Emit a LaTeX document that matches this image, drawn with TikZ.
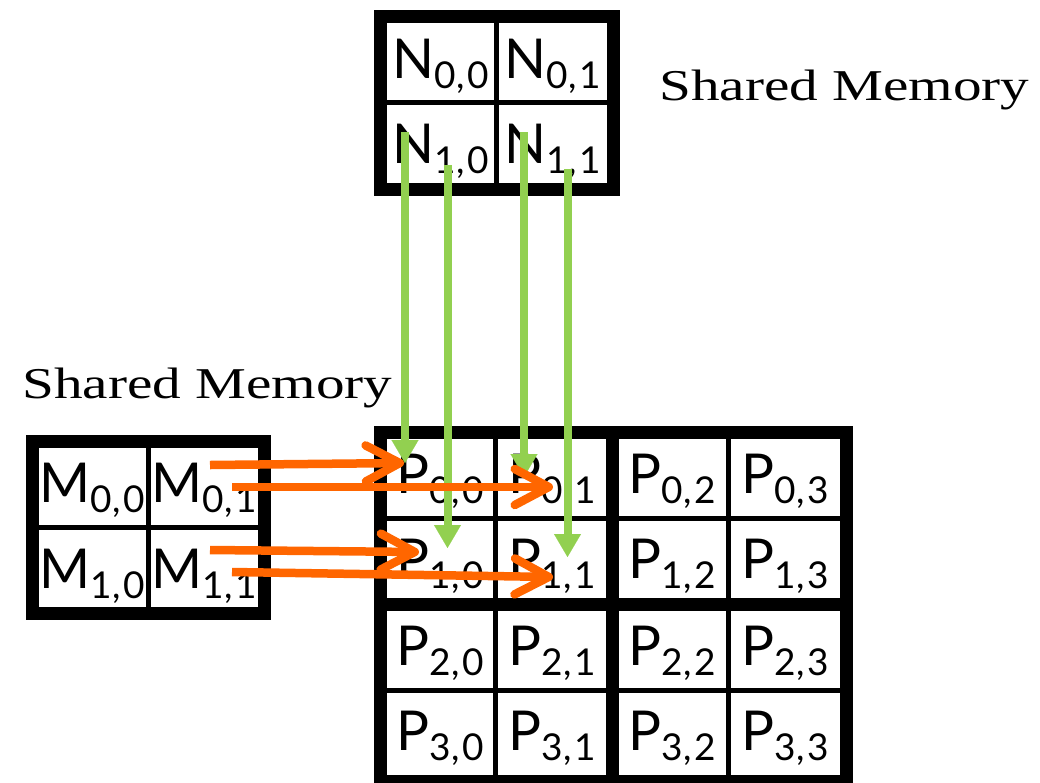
\documentclass[tikz,border=0pt]{standalone}
\usepackage{graphicx}
\usepackage{fontspec}
\usetikzlibrary{arrows.meta}
\newfontfamily\cellfont{Lato}
\newfontfamily\labfont{Liberation Serif}
\definecolor{arrgreen}{HTML}{92D050}
\definecolor{arrorange}{HTML}{FF6600}
\newcommand\celltxt[3]{{\fontsize{55}{55}\selectfont #1}\raisebox{-10pt}{\fontsize{37}{37}\selectfont #2\kern1pt,\kern2pt#3}}
\tikzset{
  outerframe/.style={line width=13pt},
  thinrule/.style={line width=5pt},
  thickrule/.style={line width=13pt},
  celllabel/.style={anchor=base, inner sep=0pt, font=\cellfont},
  memlabel/.style={anchor=base west, inner sep=0pt, font=\labfont\fontsize{44}{44}\selectfont},
  greenarrow/.style={draw=arrgreen, line width=8pt, -{Triangle[length=23pt,width=27pt,line width=0.1pt]}},
  orangearrow/.style={draw=arrorange, line width=8.5pt, -{Straight Barb[length=34pt,width=36pt,round]}}
}
\begin{document}
\begin{tikzpicture}[x=1pt,y=-1pt]
\useasboundingbox (0,0) rectangle (1040,782);
% ---- N matrix
\draw[thinrule] (496,16.5) -- (496,189);
\draw[thinrule] (380,102) -- (613,102);
\draw[outerframe] (380,16.5) rectangle (613,189);
\node[celllabel] (n00) at (440.5,78) {\celltxt{N}{0}{0}};
\node[celllabel] (n01) at (552.5,78) {\celltxt{N}{0}{1}};
\node[celllabel] (n10) at (440.5,163) {\celltxt{N}{1}{0}};
\node[celllabel] (n11) at (552.5,163) {\celltxt{N}{1}{1}};
% ---- M matrix
\draw[thinrule] (148,441.5) -- (148,613);
\draw[thinrule] (32,527) -- (264.5,527);
\draw[outerframe] (32,441.5) rectangle (264.5,613);
\node[celllabel] (m00) at (92,502) {\celltxt{M}{0}{0}};
\node[celllabel] (m01) at (204,502) {\celltxt{M}{0}{1}};
\node[celllabel] (m10) at (92,588) {\celltxt{M}{1}{0}};
\node[celllabel] (m11) at (204,588) {\celltxt{M}{1}{1}};
% ---- P matrix
\foreach \x in {495,728} \draw[thinrule] (\x,432.5) -- (\x,781.5);
\foreach \y in {518,690} \draw[thinrule] (380,\y) -- (846,\y);
\draw[thickrule] (612.5,432.5) -- (612.5,781.5);
\draw[thickrule] (380,604) -- (846,604);
\draw[outerframe] (380,432.5) rectangle (846,781.5);
\foreach \r/\yb in {0/493,1/578,2/665,3/750}{
  \foreach \c/\xc in {0/440,1/552,2/672,3/785}{
    \node[celllabel] (p\r\c) at (\xc,\yb) {\celltxt{P}{\r}{\c}};
  }
}
% ---- labels
\node[memlabel] (smtop) at (659,100) {\scalebox{1.3}[1]{Shared Memory}};
\node[memlabel] (smleft) at (22,398) {\scalebox{1.3}[1]{Shared Memory}};
% ---- arrow end points
\coordinate (g1s) at (405,132);   \coordinate (g1e) at (405,463);
\coordinate (g2s) at (447.5,165); \coordinate (g2e) at (447.5,548);
\coordinate (g3s) at (524,132);   \coordinate (g3e) at (524,477);
\coordinate (g4s) at (567.5,169); \coordinate (g4e) at (567.5,557);
\coordinate (o1s) at (210,465);   \coordinate (o1e) at (404,463);
\coordinate (o2s) at (232,487);   \coordinate (o2e) at (553,487);
\coordinate (o3s) at (210,550);   \coordinate (o3e) at (419,552);
\coordinate (o4s) at (232,572);   \coordinate (o4e) at (553,577);
% ---- arrows
\draw[greenarrow] (g1s) -- (g1e);
\draw[greenarrow] (g2s) -- (g2e);
\draw[greenarrow] (g3s) -- (g3e);
\draw[greenarrow] (g4s) -- (g4e);
\draw[orangearrow] (o1s) -- (o1e);
\draw[orangearrow] (o2s) -- (o2e);
\draw[orangearrow] (o3s) -- (o3e);
\draw[orangearrow] (o4s) -- (o4e);
\end{tikzpicture}
\end{document}
